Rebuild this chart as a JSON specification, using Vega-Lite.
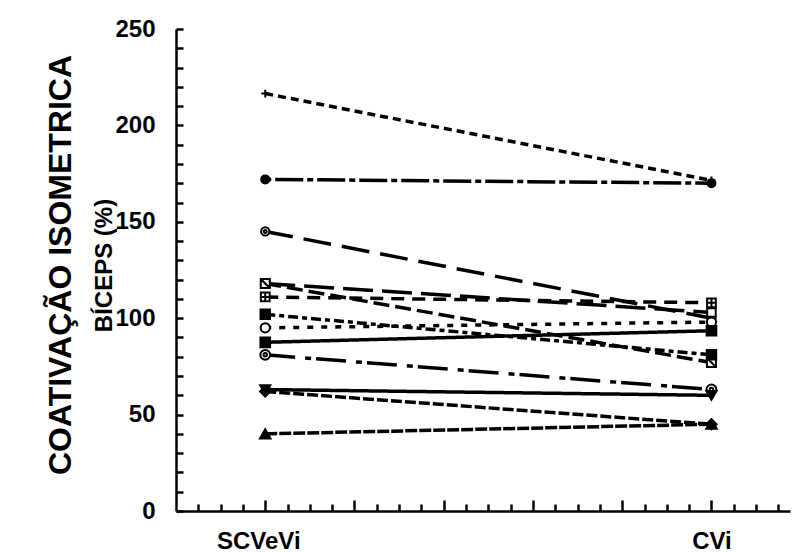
{
  "$schema": "https://vega.github.io/schema/vega-lite/v6.json",
  "autosize": "none",
  "padding": {"left": 176, "top": 29, "right": 4, "bottom": 42},
  "width": 614,
  "height": 482,
  "background": "white",
  "title": {
    "text": "COATIVAÇÃO ISOMETRICA",
    "orient": "left",
    "anchor": "middle",
    "font": "Liberation Sans",
    "fontSize": 32,
    "fontWeight": "bold",
    "color": "black",
    "offset": 14,
    "dx": 5
  },
  "config": {
    "view": {"stroke": null},
    "font": "Liberation Sans",
    "axis": {"domainColor": "black", "tickColor": "black", "labelColor": "black", "titleColor": "black", "grid": false}
  },
  "data": {
    "values": [
      {"s": "A", "x": 1, "v": 216.5}, {"s": "A", "x": 6, "v": 171.5},
      {"s": "B", "x": 1, "v": 172}, {"s": "B", "x": 6, "v": 170},
      {"s": "C", "x": 1, "v": 145}, {"s": "C", "x": 6, "v": 100},
      {"s": "D", "x": 1, "v": 118}, {"s": "D", "x": 6, "v": 103},
      {"s": "E", "x": 1, "v": 111}, {"s": "E", "x": 6, "v": 108},
      {"s": "F", "x": 1, "v": 118}, {"s": "F", "x": 6, "v": 77},
      {"s": "G", "x": 1, "v": 95}, {"s": "G", "x": 6, "v": 98},
      {"s": "H", "x": 1, "v": 102}, {"s": "H", "x": 6, "v": 81},
      {"s": "I", "x": 1, "v": 87.5}, {"s": "I", "x": 6, "v": 93.5},
      {"s": "J", "x": 1, "v": 81}, {"s": "J", "x": 6, "v": 63},
      {"s": "K", "x": 1, "v": 63}, {"s": "K", "x": 6, "v": 60},
      {"s": "L", "x": 1, "v": 62}, {"s": "L", "x": 6, "v": 45},
      {"s": "M", "x": 1, "v": 40}, {"s": "M", "x": 6, "v": 45}
    ]
  },
  "encoding": {
    "x": {
      "field": "x", "type": "quantitative",
      "scale": {"domain": [0, 6.88], "nice": false, "zero": false},
      "axis": {
        "orient": "top",
        "offset": -482,
        "title": null,
        "values": [0.25,0.5,0.75,1,1.25,1.5,1.75,2,2.25,2.5,2.75,3,3.25,3.5,3.75,4,4.25,4.5,4.75,5,5.25,5.5,5.75,6,6.25,6.5,6.75],
        "labelExpr": "datum.value == 1 ? 'SCVeVi' : (datum.value == 6 ? 'CVi' : '')",
        "tickSize": {"condition": {"test": "datum.value % 1 === 0", "value": 11}, "value": 7},
        "tickWidth": 2.5,
        "domainWidth": 2.5,
        "labelFontSize": 24,
        "labelFontWeight": "bold",
        "labelBaseline": "top",
        "labelPadding": -29,
        "labelOffset": {"condition": {"test": "datum.value == 1", "value": -7}, "value": 0},
        "labelFlush": false,
        "labelOverlap": false
      }
    },
    "y": {
      "field": "v", "type": "quantitative",
      "scale": {"domain": [0, 250], "nice": false},
      "axis": {
        "orient": "right",
        "offset": -614,
        "values": [0,10,20,30,40,50,60,70,80,90,100,110,120,130,140,150,160,170,180,190,200,210,220,230,240,250],
        "labelExpr": "datum.value % 50 === 0 ? datum.label : ''",
        "tickSize": 7,
        "tickWidth": 2.5,
        "domainWidth": 2.5,
        "labelFontSize": 24,
        "labelFontWeight": "bold",
        "labelAlign": "right",
        "labelPadding": -28,
        "labelOverlap": false,
        "title": "BÍCEPS (%)",
        "titleFontSize": 24,
        "titleFontWeight": "bold",
        "titleAngle": -90,
        "titleX": -65,
        "titleY": 236,
        "titleAlign": "center",
        "titleBaseline": "alphabetic"
      }
    }
  },
  "layer": [
    {
      "mark": {"type": "line", "color": "black", "strokeCap": "butt"},
      "encoding": {
        "detail": {"field": "s"},
        "strokeDash": {
          "field": "s", "type": "nominal", "legend": null,
          "scale": {
            "domain": ["A","B","C","D","E","F","G","H","I","J","K","L","M"],
            "range": [[8,5],[6,4,28,4],[28,11],[30,9],[13,8],[16,6],[6,8],[10,4,5,4],[1,0],[30,10,6,5],[1,0],[11,3],[12,2]]
          }
        },
        "strokeWidth": {
          "field": "s", "type": "nominal", "legend": null,
          "scale": {
            "domain": ["A","B","C","D","E","F","G","H","I","J","K","L","M"],
            "range": [3.5,3.5,3.5,3.5,3.5,3.5,3.5,3.5,2.2,3.5,3.2,3.5,3.5]
          }
        }
      }
    },
    {
      "mark": {"type": "point", "filled": true, "stroke": "black", "strokeWidth": 2, "opacity": 1},
      "encoding": {
        "shape": {
          "field": "s", "type": "nominal", "legend": null,
          "scale": {
            "domain": ["A","B","C","D","E","F","G","H","I","J","K","L","M"],
            "range": ["M-1,0H1M0,-1V1", "circle", "M-1,0A1,1 0 1,0 1,0A1,1 0 1,0 -1,0ZM-0.35,0A0.35,0.35 0 1,0 0.35,0A0.35,0.35 0 1,0 -0.35,0Z", "square", "M-1,-1H1V1H-1ZM-1,0H1M0,-1V1", "M-1,-1H1V1H-1ZM-1,-1L1,1", "circle", "square", "square", "M-1,0A1,1 0 1,0 1,0A1,1 0 1,0 -1,0ZM-0.35,0A0.35,0.35 0 1,0 0.35,0A0.35,0.35 0 1,0 -0.35,0Z", "triangle-down", "diamond", "triangle-up"]
          }
        },
        "fill": {
          "field": "s", "type": "nominal", "legend": null,
          "scale": {
            "domain": ["A","B","C","D","E","F","G","H","I","J","K","L","M"],
            "range": ["black","black","white","white","white","white","white","black","black","white","black","black","black"]
          }
        },
        "size": {
          "field": "s", "type": "nominal", "legend": null,
          "scale": {
            "domain": ["A","B","C","D","E","F","G","H","I","J","K","L","M"],
            "range": [60,110,80,70,70,70,70,80,80,70,100,100,100]
          }
        }
      }
    }
  ]
}
